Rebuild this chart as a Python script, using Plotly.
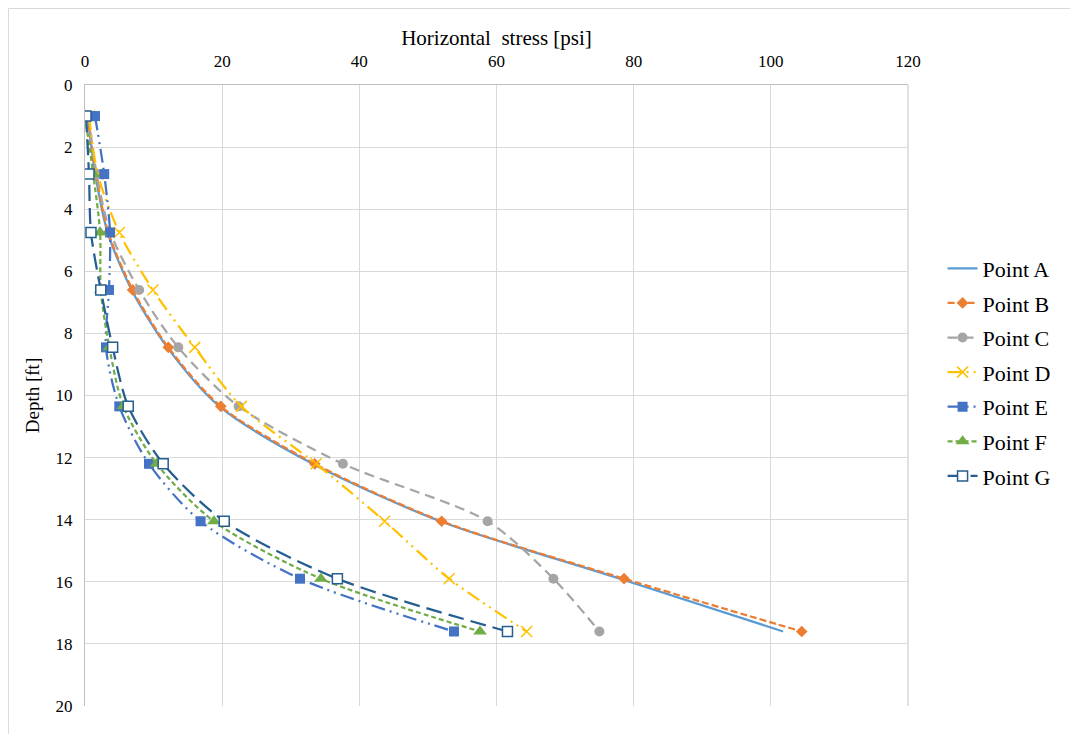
import plotly.graph_objects as go

depth = [1.0, 2.87, 4.75, 6.6, 8.45, 10.35, 12.2, 14.05, 15.9, 17.6]

point_a = [0.4, 1.5, 3.3, 6.8, 12.0, 19.6, 33.2, 51.8, 78.0, 101.8]
point_b = [0.4, 1.6, 3.4, 6.95, 12.15, 19.8, 33.5, 52.0, 78.6, 104.5]
point_c = [0.5, 1.7, 3.7, 7.9, 13.6, 22.4, 37.6, 58.7, 68.3, 75.0]
point_d = [0.6, 1.85, 5.0, 9.9, 16.0, 22.8, 33.7, 43.7, 53.1, 64.4]
point_e = [1.46, 2.8, 3.65, 3.5, 3.06, 5.0, 9.33, 16.85, 31.35, 53.8]
point_f = [0.0, 1.2, 2.2, 2.3, 3.55, 5.6, 10.45, 18.8, 34.4, 57.6]
point_g = [0.15, 0.58, 0.87, 2.3, 4.03, 6.3, 11.4, 20.3, 36.8, 61.6]

names = ["Point A", "Point B", "Point C", "Point D", "Point E", "Point F", "Point G"]
series = [point_a, point_b, point_c, point_d, point_e, point_f, point_g]
colors = ["#5B9BD5", "#ED7D31", "#A5A5A5", "#FFC000", "#4472C4", "#70AD47", "#255E91"]
dashes = ["solid", "7px,3px", "10px,6px", "14px,5px,2px,5px,2px,5px",
          "14px,5px,2px,5px,2px,5px", "5px,3px", "16px,7px"]
symbols = [None, "diamond", "circle", "x-thin-open", "square", "triangle-up", "square"]
sizes = [0, 9, 10, 11, 10, 12, 10]

FONT = "Liberation Serif"

fig = go.Figure()
for i, (nm, vals) in enumerate(zip(names, series)):
    kw = dict(x=vals, y=depth, name=nm, legendgroup=nm,
              line=dict(color=colors[i], width=2.25, dash=dashes[i], shape="spline", smoothing=0.8))
    if symbols[i] is None:
        kw["mode"] = "lines"
    else:
        kw["mode"] = "lines+markers"
        if nm == "Point G":
            kw["marker"] = dict(symbol="square", size=sizes[i], color="white",
                                line=dict(color=colors[i], width=1.5))
        elif nm == "Point D":
            kw["marker"] = dict(symbol=symbols[i], size=sizes[i], color=colors[i],
                                line=dict(color=colors[i], width=1.5))
        else:
            kw["marker"] = dict(symbol=symbols[i], size=sizes[i], color=colors[i],
                                line=dict(width=0))
    fig.add_trace(go.Scatter(**kw))

fig.update_layout(
    width=1070, height=726,
    margin=dict(l=77, r=170, t=77, b=28, autoexpand=False),
    paper_bgcolor="white", plot_bgcolor="white",
    font=dict(family=FONT, size=17, color="#000000"),
    showlegend=True,
    legend=dict(x=1.042, y=0.537, xanchor="left", yanchor="middle",
                font=dict(family=FONT, size=22), tracegroupgap=3,
                traceorder="grouped", bgcolor="rgba(0,0,0,0)"),
    xaxis=dict(side="top", range=[0, 120], dtick=20, tick0=0, automargin=False,
               showgrid=True, gridcolor="#D9D9D9", gridwidth=1,
               showline=True, linecolor="#BFBFBF", linewidth=1,
               zeroline=False, ticks="", ticklen=0, ticklabelstandoff=10,
               tickfont=dict(family=FONT, size=17),
               title=dict(text="Horizontal  stress [psi]", font=dict(family=FONT, size=21), standoff=0)),
    yaxis=dict(range=[20, 0], dtick=2, tick0=0, automargin=False,
               showgrid=True, gridcolor="#D9D9D9", gridwidth=1,
               showline=True, linecolor="#BFBFBF", linewidth=1,
               zeroline=False, ticks="", ticklabelstandoff=8,
               tickfont=dict(family=FONT, size=17),
               title=dict(text="Depth [ft]", font=dict(family=FONT, size=19), standoff=10)),
)

fig.add_shape(type="rect", xref="paper", yref="paper",
              x0=-0.093, x1=1.6, y0=-0.2, y1=1.1232,
              line=dict(color="#D9D9D9", width=1), fillcolor="rgba(0,0,0,0)", layer="below")
fig.add_shape(type="line", xref="paper", yref="paper", x0=1, x1=1, y0=0, y1=1,
              line=dict(color="#D9D9D9", width=1.5))

fig.write_html("out.html")
